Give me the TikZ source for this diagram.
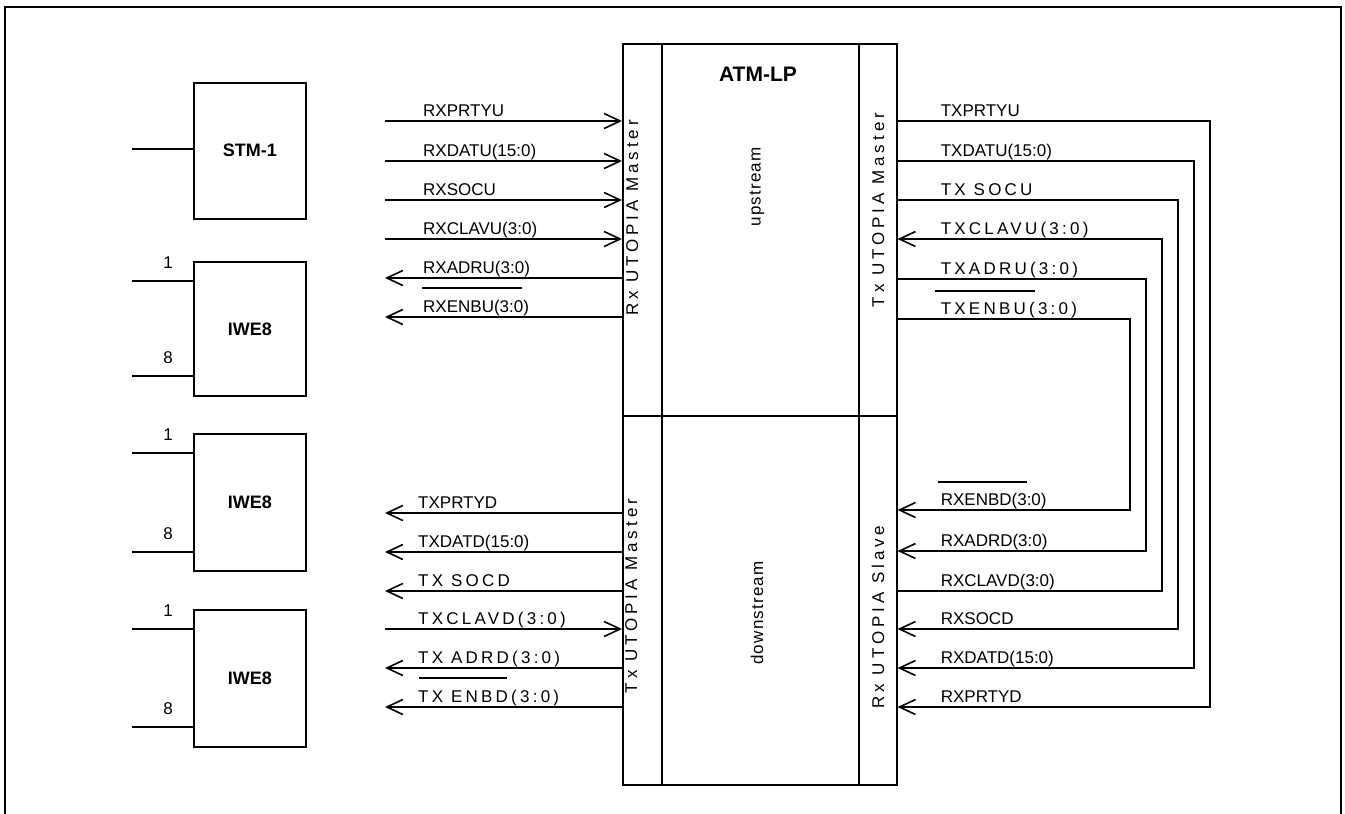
\documentclass[tikz,border=0pt]{standalone}
\usepackage{fontspec}
\setmainfont{Liberation Sans}
\newfontfamily\spacedfont[LetterSpace=19]{Liberation Sans}
\newfontfamily\widefont[LetterSpace=23]{Liberation Sans}
\newfontfamily\looseFont[LetterSpace=7]{Liberation Sans}
\usetikzlibrary{arrows.meta}

\tikzset{
  wire/.style={line width=1.6pt},
  sigin/.style={wire,-{Straight Barb[length=16pt,width=15pt]}},
  sigout/.style={wire,{Straight Barb[length=16pt,width=15pt]}-},
  lbl/.style={font=\fontsize{17}{20}\selectfont, inner sep=0pt},
  lblsp/.style={font=\spacedfont\fontsize{17}{20}\selectfont, inner sep=0pt},
  lblwide/.style={font=\widefont\fontsize{17}{20}\selectfont, inner sep=0pt},
  lblloose/.style={font=\looseFont\fontsize{17}{20}\selectfont, inner sep=0pt},
  title/.style={font=\bfseries\fontsize{21}{24}\selectfont, inner sep=0pt},
  block/.style={draw, line width=1.6pt, inner sep=0pt, anchor=north west,
    minimum width=112pt, font=\bfseries\fontsize{18}{21}\selectfont},
  cell/.style={draw, line width=1.6pt, inner sep=0pt, anchor=north west},
}

\begin{document}
\begin{tikzpicture}[x=1pt,y=-1pt]
\useasboundingbox (0,0) rectangle (1345,814);

% outer frame, open at the bottom
\draw[wire] (5,814) -- (5,7) -- (1341,7) -- (1341,814);

% ATM-LP: interface columns and core, upstream and downstream halves
\node[cell, minimum width=39pt,  minimum height=372pt] (rxm) at (622,43)  {};
\node[cell, minimum width=197pt, minimum height=372pt] (up)  at (661,43)  {};
\node[cell, minimum width=38pt,  minimum height=372pt] (txm) at (858,43)  {};
\node[cell, minimum width=39pt,  minimum height=369pt] (txd) at (622,415) {};
\node[cell, minimum width=197pt, minimum height=369pt] (dn)  at (661,415) {};
\node[cell, minimum width=38pt,  minimum height=369pt] (rxs) at (858,415) {};

\node[title] (atm) at (758,74) {ATM-LP};
\node[lblloose, rotate=90] (ups) at (757,187) {upstream};
\node[lblloose, rotate=90] (dns) at (757,613) {downstream};

\node[lblwide, rotate=90, anchor=base] (rxmt) at (638,218) {Rx UTOPIA Master};
\node[lblwide, rotate=90, anchor=base] (txmt) at (884,210) {Tx UTOPIA Master};
\node[lblwide, rotate=90, anchor=base] (txdt) at (637,596) {Tx UTOPIA Master};
\node[lblwide, rotate=90, anchor=base] (rxst) at (884,617) {Rx UTOPIA Slave};

% line-side blocks
\node[block, minimum height=136pt] (stm)  at (193,82)  {STM-1};
\node[block, minimum height=134pt] (iwea) at (193,261) {IWE8};
\node[block, minimum height=137pt] (iweb) at (193,433) {IWE8};
\node[block, minimum height=137pt] (iwec) at (193,609) {IWE8};

\coordinate (p0) at (132,149);
\draw[wire] (p0) -- (p0 -| stm.west);
\foreach \blk/\ya/\yb in {iwea/281/376, iweb/453/552, iwec/629/727}{
  \coordinate (\blk a) at (132,\ya);
  \coordinate (\blk b) at (132,\yb);
  \draw[wire] (\blk a) -- (\blk a -| \blk.west);
  \draw[wire] (\blk b) -- (\blk b -| \blk.west);
  \node[lbl, anchor=base] (\blk n1) at ([xshift=36pt,yshift=13pt]\blk a) {1};
  \node[lbl, anchor=base] (\blk n8) at ([xshift=36pt,yshift=13pt]\blk b) {8};
}

% upstream receive side
\foreach \idx/\ypos/\lsty/\ltext/\ldir in {
  1/121/lbl/RXPRTYU/sigin, 2/161/lbl/RXDATU(15:0)/sigin,
  3/200/lbl/RXSOCU/sigin, 4/239/lbl/RXCLAVU(3:0)/sigin,
  5/278/lbl/RXADRU(3:0)/sigout, 6/317/lbl/RXENBU(3:0)/sigout}{
  \coordinate (lu\idx) at (385,\ypos);
  \draw[\ldir] (lu\idx) -- (lu\idx -| rxm.west);
  \node[\lsty, anchor=base west] (lut\idx) at ([xshift=38pt,yshift=5pt]lu\idx) {\ltext};
}
\draw[wire] (422,288) -- (522,288);

% downstream transmit side
\foreach \idx/\ypos/\lsty/\ltext/\ldir in {
  1/513/lbl/TXPRTYD/sigout, 2/552/lbl/TXDATD(15:0)/sigout,
  3/591/lblsp/TX SOCD/sigout, 4/629/lblsp/TXCLAVD(3:0)/sigin,
  5/668/lblsp/TX ADRD(3:0)/sigout, 6/707/lblsp/TX ENBD(3:0)/sigout}{
  \coordinate (ld\idx) at (385,\ypos);
  \draw[\ldir] (ld\idx) -- (ld\idx -| txd.west);
  \node[\lsty, anchor=base west] (ldt\idx) at ([xshift=33pt,yshift=5pt]ld\idx) {\ltext};
}
\draw[wire] (419,678) -- (507,678);

% loop-back from upstream transmit to downstream receive
\foreach \idx/\ytop/\ybot/\xr/\ttop/\tsty/\tbot/\ldir in {
  1/121/707/1210/TXPRTYU/lbl/RXPRTYD/sigin,
  2/161/668/1194/TXDATU(15:0)/lbl/RXDATD(15:0)/sigin,
  3/200/629/1178/TX SOCU/lblsp/RXSOCD/sigin,
  4/239/591/1162/TXCLAVU(3:0)/lblsp/RXCLAVD(3:0)/sigout,
  5/279/551/1146/TXADRU(3:0)/lblsp/RXADRD(3:0)/sigin,
  6/319/510/1130/TXENBU(3:0)/lblsp/RXENBD(3:0)/sigin}{
  \coordinate (rt\idx) at (\xr,\ytop);
  \coordinate (rb\idx) at (\xr,\ybot);
  \draw[\ldir] (rt\idx -| txm.east) -- (rt\idx) -- (rb\idx) -- (rb\idx -| rxs.east);
  \node[\tsty, anchor=base west] (rtt\idx) at ([xshift=43pt,yshift=5pt]rt\idx -| txm.east) {\ttop};
  \node[lbl, anchor=base west] (rbt\idx) at ([xshift=43pt,yshift=5pt]rb\idx -| rxs.east) {\tbot};
}
\draw[wire] (935,291) -- (1035,291);
\draw[wire] (938,482) -- (1027,482);
\end{tikzpicture}
\end{document}
